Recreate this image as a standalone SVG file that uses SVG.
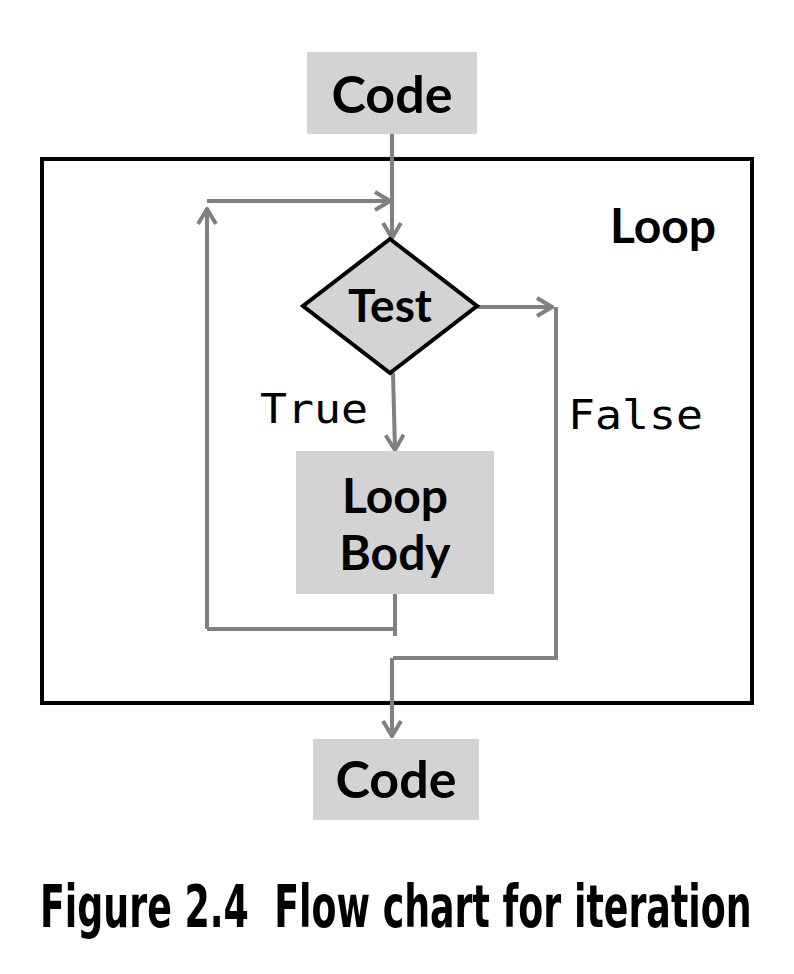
<svg xmlns="http://www.w3.org/2000/svg" width="794" height="974" viewBox="0 0 794 974">
<defs>
<style>
.box{fill:#d3d3d3;}
.lbl{font-family:Lato,"Noto Sans","Liberation Sans",sans-serif;font-weight:bold;fill:#000;text-anchor:middle;}
.mono{font-family:"DejaVu Sans Mono","Liberation Mono",monospace;font-size:41px;fill:#000;}
.con{fill:none;stroke:#808080;stroke-width:4;}
</style>
<marker id="ah" viewBox="0 0 22 22" refX="20" refY="11" markerWidth="22" markerHeight="22" markerUnits="userSpaceOnUse" orient="auto">
<path d="M5,2 L20,11 L5,20" fill="none" stroke="#808080" stroke-width="4"/>
</marker>
</defs>
<rect width="794" height="974" fill="#fff"/>
<g id="loop">
<rect x="42" y="159" width="710" height="544" fill="none" stroke="#000" stroke-width="4"/>
<text class="lbl" x="663" y="243" font-size="48">Loop</text>
</g>
<g id="connectors">
<path class="con" d="M392,134 V238" marker-end="url(#ah)"/>
<path class="con" d="M207,629 V209" marker-end="url(#ah)"/>
<path class="con" d="M207,201 H390" marker-end="url(#ah)"/>
<path class="con" d="M477,307 H552" marker-end="url(#ah)"/>
<path class="con" d="M556,307 V658 H393"/>
<path class="con" d="M392,658 V736" marker-end="url(#ah)"/>
<path class="con" d="M393,373 L395,450" marker-end="url(#ah)"/>
<path class="con" d="M395,594 V636"/>
<path class="con" d="M207,629 H395"/>
<text class="mono" x="260" y="423" textLength="108" lengthAdjust="spacingAndGlyphs">True</text>
<text class="mono" x="568" y="429" textLength="135" lengthAdjust="spacingAndGlyphs">False</text>
</g>
<g id="code_top">
<rect class="box" x="307" y="52" width="170" height="82"/>
<text class="lbl" x="392" y="113" font-size="52">Code</text>
</g>
<g id="test">
<polygon points="390,239 477,306 390,373 303,306" fill="#d3d3d3" stroke="#000" stroke-width="4" stroke-linejoin="miter"/>
<text class="lbl" x="390" y="322" font-size="46">Test</text>
</g>
<g id="loop_body">
<rect class="box" x="296" y="451" width="198" height="143"/>
<text class="lbl" x="395" y="513" font-size="48">Loop</text>
<text class="lbl" x="395" y="570" font-size="48">Body</text>
</g>
<g id="code_bottom">
<rect class="box" x="313" y="739" width="166" height="81"/>
<text class="lbl" x="396" y="798" font-size="52">Code</text>
</g>
<text xml:space="preserve" transform="translate(40,927) scale(1.2,1.94)" x="0" y="0" font-family="'DejaVu Sans Condensed','Liberation Sans Narrow','Liberation Sans',sans-serif" font-weight="bold" font-size="30" textLength="593" lengthAdjust="spacingAndGlyphs">Figure 2.4  Flow chart for iteration</text>
</svg>
